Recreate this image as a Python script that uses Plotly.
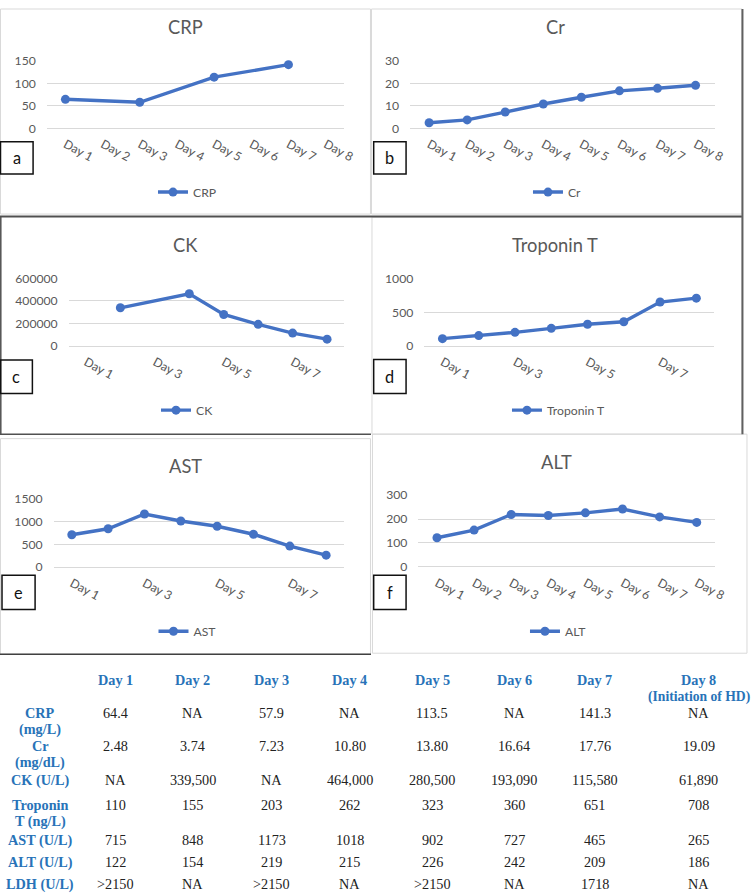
import plotly.graph_objects as go

# target picture is 751x893; the page shows the figure 8px down and at ~98.3% scale,
# so the figure is made a little larger and placed by picture coordinates
W, H = 751, 893
TOP = 8
SCALE = 0.983
FIG_W = round(W / SCALE)
FIG_H = round((H - TOP) / SCALE)

days = ["Day 1", "Day 2", "Day 3", "Day 4", "Day 5", "Day 6", "Day 7", "Day 8"]
crp = [64.4, None, 57.9, None, 113.5, None, 141.3, None]
cr = [2.48, 3.74, 7.23, 10.80, 13.80, 16.64, 17.76, 19.09]
ck = [None, 339500, None, 464000, 280500, 193090, 115580, 61890]
troponin = [110, 155, 203, 262, 323, 360, 651, 708]
ast = [715, 848, 1173, 1018, 902, 727, 465, 265]
alt = [122, 154, 219, 215, 226, 242, 209, 186]
ldh = [">2150", "NA", ">2150", "NA", ">2150", "NA", "1718", "NA"]

table_headers = ["Day 1", "Day 2", "Day 3", "Day 4", "Day 5", "Day 6", "Day 7",
                 "Day 8<br>(Initiation of HD)"]
row_labels = ["CRP<br>(mg/L)", "Cr<br>(mg/dL)", "CK (U/L)", "Troponin<br>T (ng/L)",
              "AST (U/L)", "ALT (U/L)", "LDH (U/L)"]

BLUE = "#4472C4"
GREY = "#595959"
GRID = "#D9D9D9"
HEAD = "#2873B8"
FONT = "Lato, Carlito, Calibri, sans-serif"
SERIF = "Liberation Serif, Times New Roman, serif"


def fs(s):
    return s / SCALE


def px(x):
    return x / (FIG_W * SCALE)


def py(y):
    return 1 - (y - TOP) / (FIG_H * SCALE)


# name, values, ymax, dtick, every-other tick, letter, plot box (x0, x1, ytop, ybot),
# title (x, y), legend centre (x, y), letter box (x0, y0, x1, y1)
panels = [
    ("CRP", crp, 150, 50, False, "a", (46.7, 343.3, 60.7, 128.3), (185, 27), (187, 192), (0.5, 141.7, 33, 174)),
    ("Cr", cr, 30, 10, False, "b", (409, 712.7, 60.7, 128.3), (554, 27), (556, 192), (372.7, 141.7, 405, 174)),
    ("CK", ck, 600000, 200000, True, "c", (68.5, 343.4, 278.3, 346), (185, 245), (187, 410), (0.5, 360, 32.3, 393.3)),
    ("Troponin T", troponin, 1000, 500, True, "d", (423.2, 712.6, 278.3, 346), (554, 245), (557, 410), (372.7, 359.3, 405, 393.3)),
    ("AST", ast, 1500, 500, True, "e", (53.5, 343.4, 499, 567), (185, 466), (187, 631), (2, 575, 35, 609.3)),
    ("ALT", alt, 300, 100, False, "f", (417.3, 713.4, 495, 566.7), (555, 462), (557, 631), (372.7, 575, 405, 609.3)),
]

fig = go.Figure()
layout = {}
annotations = []
shapes = []


def rect(x0, y0, x1, y1, color, width=1):
    shapes.append(dict(type="rect", xref="paper", yref="paper",
                       x0=px(x0), x1=px(x1), y0=py(y1), y1=py(y0),
                       line=dict(color=color, width=width), fillcolor="rgba(0,0,0,0)"))


def hline(x0, x1, y, color, width=1):
    shapes.append(dict(type="line", xref="paper", yref="paper",
                       x0=px(x0), x1=px(x1), y0=py(y), y1=py(y),
                       line=dict(color=color, width=width)))


def vline(x, y0, y1, color, width=1):
    shapes.append(dict(type="line", xref="paper", yref="paper",
                       x0=px(x), x1=px(x), y0=py(y0), y1=py(y1),
                       line=dict(color=color, width=width)))


# panel frames
rect(0.5, 9, 369.5, 214, GRID)
rect(370.5, 9, 740, 214, GRID)
rect(0.5, 438.5, 369.5, 654, GRID)
rect(371.5, 434, 745, 653, GRID)
rect(371, 217, 740, 434, GRID)
hline(0, 740, 216.5, "#505050", 2)
vline(0.8, 216, 434, "#505050", 1.5)
hline(0, 370, 434, "#505050", 1.5)
vline(740.5, 9, 434, "#606060", 2)
hline(0, 370, 654, "#404040", 1.5)

for i, (name, vals, ymax, dtick, skip, letter, box, tpos, lpos, lbox) in enumerate(panels):
    n = "" if i == 0 else str(i + 1)
    x0, x1, yt, yb = box
    layout["xaxis" + n] = dict(
        domain=[px(x0), px(x1)], anchor="y" + n, type="category",
        categoryorder="array", categoryarray=days, range=[-0.5, len(days) - 0.5],
        showgrid=False, zeroline=False, showline=False, ticks="",
        tickvals=days[::2] if skip else days, tickangle=28,
        tickfont=dict(family=FONT, size=fs(12), color=GREY), ticklabelstandoff=6,
    )
    layout["yaxis" + n] = dict(
        domain=[py(yb), py(yt)], anchor="x" + n, range=[0, ymax], dtick=dtick,
        tickformat="d", showgrid=True, gridcolor=GRID, gridwidth=1,
        zeroline=True, zerolinecolor=GRID, zerolinewidth=1, showline=False, ticks="",
        tickfont=dict(family=FONT, size=fs(12), color=GREY), ticklabelstandoff=10,
    )
    leg = "legend" + n
    layout[leg] = dict(x=px(lpos[0]), y=py(lpos[1]), xanchor="center", yanchor="middle",
                       bgcolor="rgba(0,0,0,0)", itemwidth=30,
                       font=dict(family=FONT, size=fs(12), color=GREY))
    fig.add_trace(go.Scatter(
        x=days, y=vals, name=name, mode="lines+markers", connectgaps=True,
        line=dict(color=BLUE, width=3.4), marker=dict(color=BLUE, size=9),
        xaxis="x" + n, yaxis="y" + n, legend=leg, showlegend=True, cliponaxis=False,
    ))
    annotations.append(dict(text=name, x=px(tpos[0]), y=py(tpos[1]), xref="paper", yref="paper",
                            showarrow=False, xanchor="center", yanchor="middle",
                            font=dict(family=FONT, size=fs(18), color=GREY)))
    rect(*lbox, "#111111", 1.5)
    annotations.append(dict(text=letter, x=px((lbox[0] + lbox[2]) / 2), y=py((lbox[1] + lbox[3]) / 2),
                            xref="paper", yref="paper", showarrow=False,
                            xanchor="center", yanchor="middle",
                            font=dict(family=FONT, size=fs(16), color="#111111")))

# table below the charts
col_x = [115, 192, 271, 349, 431, 513, 593, 697]
label_x = 40
header_y = 680
row_y = [713, 746, 780, 805, 840, 862, 884]
line_h = 16.5


def fmt(v, kind):
    if v is None:
        return "NA"
    if kind == "crp":
        return f"{v:.1f}"
    if kind == "cr":
        return f"{v:.2f}"
    if kind == "ck":
        return f"{v:,.0f}"
    return str(v)


table_rows = [
    [fmt(v, "crp") for v in crp],
    [fmt(v, "cr") for v in cr],
    [fmt(v, "ck") for v in ck],
    [fmt(v, "") for v in troponin],
    [fmt(v, "") for v in ast],
    [fmt(v, "") for v in alt],
    ldh,
]


def text(t, x, y, color, bold=False, size=14):
    for k, line in enumerate(t.split("<br>")):
        # the long "(Initiation of HD)" line is set a touch smaller so it stays inside the page
        s = size - 0.6 if len(line) > 12 else size
        annotations.append(dict(text=f"<b>{line}</b>" if bold else line,
                                x=px(x), y=py(y + k * line_h), xref="paper", yref="paper",
                                showarrow=False, xanchor="center", yanchor="middle",
                                font=dict(family=SERIF, size=fs(s), color=color)))


for h, x in zip(table_headers, col_x):
    text(h, x, header_y, HEAD, bold=True)
for lab, y, vals in zip(row_labels, row_y, table_rows):
    text(lab, label_x, y, HEAD, bold=True)
    for v, x in zip(vals, col_x):
        text(v, x, y, "#222222")

fig.update_layout(
    width=FIG_W, height=FIG_H, margin=dict(l=0, r=0, t=0, b=0),
    paper_bgcolor="white", plot_bgcolor="white",
    annotations=annotations, shapes=shapes, **layout,
)

fig.write_html(
    "out.html",
    config={"displayModeBar": False},
    post_script="document.documentElement.style.margin='0';document.body.style.margin='0';"
                "document.body.style.padding='0';document.body.style.overflow='hidden';",
)
